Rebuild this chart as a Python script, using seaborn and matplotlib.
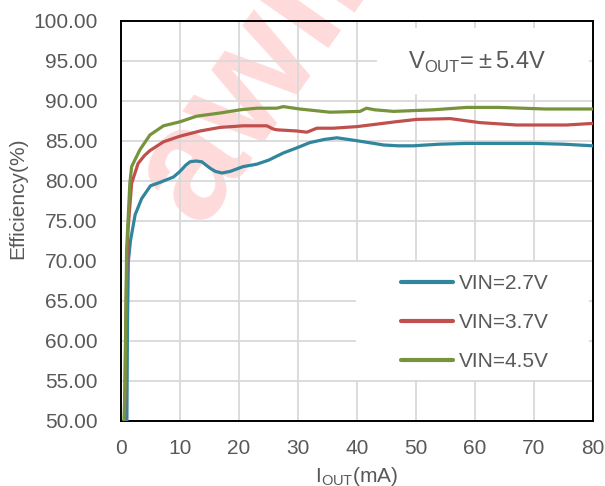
import numpy as np
import pandas as pd
import matplotlib
matplotlib.use("Agg")
import matplotlib.pyplot as plt
from matplotlib.patches import Rectangle
from matplotlib.lines import Line2D
import seaborn as sns

# ---- data ----
x_27 = [1.0, 1.1, 1.25, 1.6, 2.4, 3.5, 5.0, 6.5, 8.9, 10.0, 11.0, 11.7, 12.7, 13.7, 15.1, 16.0,
        17.1, 18.5, 20.7, 23.0, 25.0, 27.5, 30.0, 32.0, 34.5, 36.6, 39.4, 42.0, 44.5, 47.0,
        49.5, 54.0, 58.6, 64.0, 70.0, 75.0, 80.0]
y_27 = [50, 62, 70, 72.5, 75.8, 77.8, 79.4, 79.8, 80.5, 81.2, 82.0, 82.4, 82.5, 82.4, 81.6, 81.2,
        81.0, 81.2, 81.8, 82.1, 82.6, 83.5, 84.2, 84.8, 85.2, 85.4, 85.1, 84.8, 84.5, 84.4,
        84.4, 84.6, 84.7, 84.7, 84.7, 84.6, 84.4]

x_37 = [0.6, 0.8, 1.0, 1.2, 1.8, 2.9, 4.0, 4.9, 7.2, 10.0, 13.4, 16.8, 20.7, 24.7, 25.8, 26.4,
        29.8, 31.5, 33.2, 36.0, 40.0, 43.3, 46.5, 50.1, 55.8, 60.8, 67.0, 75.5, 80.0]
y_37 = [50, 62, 70, 74, 79.7, 82.2, 83.2, 83.8, 84.9, 85.6, 86.25, 86.7, 86.9, 86.9, 86.5, 86.4,
        86.25, 86.1, 86.6, 86.6, 86.8, 87.1, 87.4, 87.7, 87.8, 87.3, 87.0, 87.0, 87.2]

x_45 = [0.5, 0.7, 0.95, 1.5, 1.8, 3.2, 4.9, 7.2, 10.0, 12.8, 16.8, 20.2, 23.0, 26.4, 27.5, 30.3,
        35.4, 40.5, 41.6, 43.0, 46.2, 52.9, 58.6, 64.0, 72.0, 80.0]
y_45 = [50, 54.6, 71.4, 79.7, 81.8, 83.9, 85.75, 86.9, 87.4, 88.1, 88.5, 88.9, 89.1, 89.1, 89.3, 89.0,
        88.6, 88.7, 89.1, 88.9, 88.7, 88.9, 89.2, 89.2, 89.0, 89.0]

series_names = ["VIN=2.7V", "VIN=3.7V", "VIN=4.5V"]
series_colors = ["#31859C", "#C0504D", "#77933C"]
x_ticks = [0, 10, 20, 30, 40, 50, 60, 70, 80]
y_ticks = [50, 55, 60, 65, 70, 75, 80, 85, 90, 95, 100]

df = pd.concat([
    pd.DataFrame({"I": x_27, "Eff": y_27, "series": series_names[0]}),
    pd.DataFrame({"I": x_37, "Eff": y_37, "series": series_names[1]}),
    pd.DataFrame({"I": x_45, "Eff": y_45, "series": series_names[2]}),
], ignore_index=True)

sns.set_theme(style="white")
plt.rcParams["font.family"] = ["Liberation Sans", "DejaVu Sans"]
plt.rcParams["mathtext.fontset"] = "custom"
plt.rcParams["mathtext.rm"] = "Liberation Sans"

TXT = "#595959"
fig = plt.figure(figsize=(6.05, 4.86), dpi=100)
ax = fig.add_axes([121 / 605, 1 - 421 / 486, 472 / 605, 400 / 486])

sns.lineplot(data=df, x="I", y="Eff", hue="series", palette=dict(zip(series_names, series_colors)),
             hue_order=series_names, estimator=None, sort=False, lw=2.3, ax=ax, zorder=5,
             legend=False)

ax.set_xlim(0, 80)
ax.set_ylim(50, 100)
ax.set_xticks(x_ticks)
ax.set_yticks(y_ticks)
ax.set_yticklabels([f"{v:.2f}" for v in y_ticks])
ax.tick_params(axis="both", length=0, labelsize=15, colors=TXT)
ax.tick_params(axis="y", pad=17)
ax.tick_params(axis="x", pad=13)
ax.grid(True, color="#D9D9D9", lw=1.3, zorder=0.5)
ax.set_axisbelow(True)
for s in ax.spines.values():
    s.set_color("black")
    s.set_linewidth(1.4)
    s.set_visible(True)

ax.set_xlabel(r"I$_\mathregular{OUT}$(mA)", fontsize=15, color=TXT, labelpad=5)
ax.set_ylabel("Efficiency(%)", fontsize=15, color=TXT)
ax.yaxis.set_label_coords(-0.199, 0.557)

# watermark
ax.text(200 / 605, 1 - 228 / 486, "awinic", fontsize=115, fontweight="bold", color="#FFDADA",
        rotation=55, rotation_mode="anchor", ha="left", va="baseline", zorder=0.3,
        transform=fig.transFigure, clip_on=False)

# white boxes behind annotation and legend
def px_rect(x0, y0, x1, y1):
    ax0 = (x0 - 121) / 472
    ay0 = (421 - y1) / 400
    return Rectangle((ax0, ay0), (x1 - x0) / 472, (y1 - y0) / 400, transform=ax.transAxes,
                     facecolor="white", edgecolor="none", zorder=2)

ax.add_patch(px_rect(377, 28, 589, 94))
ax.add_patch(px_rect(356, 262, 589, 380))

ax.text((477 - 121) / 472, (421 - 62) / 400, "V$_\\mathregular{OUT}$=\u2009±\u20095.4V", fontsize=17,
        color=TXT, ha="center", va="center", transform=ax.transAxes, zorder=6)

handles = [Line2D([], [], color=c, lw=3) for c in series_colors]
leg = ax.legend(handles, series_names, loc="upper left",
                bbox_to_anchor=((393 - 121) / 472, (421 - 266) / 400), frameon=False,
                fontsize=15, handlelength=2.5, handletextpad=0.25, labelspacing=0.95,
                borderaxespad=0)
for t in leg.get_texts():
    t.set_color(TXT)
leg.set_zorder(7)

fig.savefig("out.png", dpi=100)
